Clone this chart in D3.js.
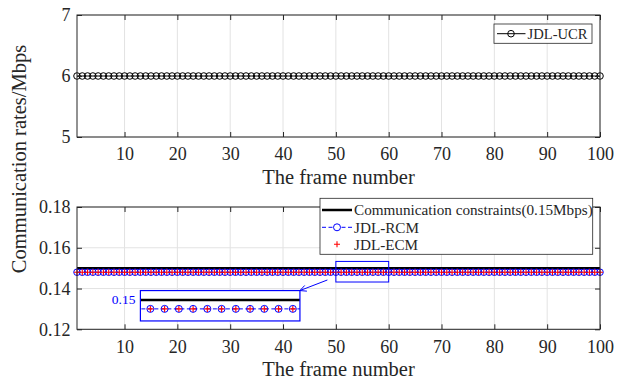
<!DOCTYPE html>
<html><head><meta charset="utf-8">
<script src="https://cdn.jsdelivr.net/npm/d3@7"></script>
<style>body{margin:0;background:#fff}svg{display:block}text{font-family:"Liberation Serif","Times New Roman",serif !important;fill:#262626}</style>
</head><body><svg id="c" width="625" height="379"></svg>
<script>
const frames = d3.range(1, 101);
const ucrValue = 6;            // JDL-UCR
const constraintValue = 0.15;  // Communication constraints
const rcmValue = 0.148;        // JDL-RCM
const ecmValue = 0.148;        // JDL-ECM
const ucr = frames.map(f => ({f, v: ucrValue}));
const constraint = frames.map(f => ({f, v: constraintValue}));
const rcm = frames.map(f => ({f, v: rcmValue}));
const ecm = frames.map(f => ({f, v: ecmValue}));
const xTicks = [10,20,30,40,50,60,70,80,90,100];
const yTicksTop = [5,6,7];
const yTicksBot = [0.12,0.14,0.16,0.18];
const zoomRect = {x0:50, x1:60, y0:0.1432, y1:0.1533};
const insetBox = {x0:13, x1:43.2, y0:0.1241, y1:0.139};
const insetDomX = [49.3, 60.5], insetDomY = [0.1453, 0.1521];
const arrowFrom = {f:48.4, v:0.1442};

const svg = d3.select('#c');
const L = 77, R = 600;
const x = d3.scaleLinear().domain([1,100]).range([L,R]);
const yT = d3.scaleLinear().domain([5,7]).range([137,15]);
const yB = d3.scaleLinear().domain([0.12,0.18]).range([329.3,207]);
const axisCol = '#262626', gridCol = '#e3e3e3';
const SERIF = '"Liberation Serif","Times New Roman",serif';

function frame(y, ticks) {
  const g = svg.append('g');
  const [yb, yt] = y.range();
  g.selectAll('.gx').data(xTicks).join('line').attr('x1',d=>x(d)).attr('x2',d=>x(d)).attr('y1',yb).attr('y2',yt).attr('stroke',gridCol);
  g.selectAll('.gy').data(ticks).join('line').attr('x1',L).attr('x2',R).attr('y1',d=>y(d)).attr('y2',d=>y(d)).attr('stroke',gridCol);
  return g;
}
function styleText(a){a.selectAll('text').style('font-family',SERIF).style('font-size','18px').style('fill',axisCol);}
function axes(y, ticks, fmt) {
  const g = svg.append('g');
  const [yb, yt] = y.range();
  g.append('g').attr('transform',`translate(0,${yb})`).call(d3.axisBottom(x).tickValues(xTicks).tickSize(-5).tickPadding(10.5))
    .call(a=>{a.attr('font-family',SERIF);a.select('.domain').remove();a.selectAll('line').attr('stroke',axisCol);styleText(a);});
  g.append('g').attr('transform',`translate(0,${yt})`).call(d3.axisTop(x).tickValues(xTicks).tickSize(-5).tickFormat(''))
    .call(a=>{a.select('.domain').remove();a.selectAll('line').attr('stroke',axisCol);});
  g.append('g').attr('transform',`translate(${L},0)`).call(d3.axisLeft(y).tickValues(ticks).tickSize(-5).tickPadding(6.5).tickFormat(fmt))
    .call(a=>{a.attr('font-family',SERIF);a.select('.domain').remove();a.selectAll('line').attr('stroke',axisCol);styleText(a);});
  g.append('g').attr('transform',`translate(${R},0)`).call(d3.axisRight(y).tickValues(ticks).tickSize(-5).tickFormat(''))
    .call(a=>{a.select('.domain').remove();a.selectAll('line').attr('stroke',axisCol);});
  g.append('rect').attr('x',L).attr('y',yt).attr('width',R-L).attr('height',yb-yt).attr('fill','none').attr('stroke',axisCol).attr('stroke-width',1);
  g.append('text').attr('x',(L+R)/2).attr('y',yb+47).attr('text-anchor','middle').style('font-size','20.5px').text('The frame number');
}

// ---- top plot
frame(yT, yTicksTop);
const lineT = d3.line().x(d=>x(d.f)).y(d=>yT(d.v));
svg.append('path').datum(ucr).attr('d',lineT).attr('fill','none').attr('stroke','#000').attr('stroke-width',1);
svg.append('g').selectAll('circle').data(ucr).join('circle').attr('cx',d=>x(d.f)).attr('cy',d=>yT(d.v)).attr('r',3.3).attr('fill','none').attr('stroke','#000').attr('stroke-width',1);
axes(yT, yTicksTop, d3.format('d'));
{
  const g = svg.append('g');
  g.append('rect').attr('x',494).attr('y',24).attr('width',98).attr('height',19.3).attr('fill','#fff').attr('stroke',axisCol).attr('stroke-width',0.8);
  const cy = 33.7;
  g.append('line').attr('x1',497).attr('x2',525.5).attr('y1',cy).attr('y2',cy).attr('stroke','#000');
  g.append('circle').attr('cx',511).attr('cy',cy).attr('r',3.3).attr('fill','none').attr('stroke','#000');
  g.append('text').attr('x',527.5).attr('y',cy+5).style('font-size','14.6px').text('JDL-UCR');
}

// ---- bottom plot
frame(yB, yTicksBot);
const lineB = d3.line().x(d=>x(d.f)).y(d=>yB(d.v));
svg.append('path').datum(constraint).attr('d',lineB).attr('fill','none').attr('stroke','#000').attr('stroke-width',2.5);
svg.append('path').datum(rcm).attr('d',lineB).attr('fill','none').attr('stroke','#0000ff').attr('stroke-dasharray','4,2.5');
svg.append('g').selectAll('circle').data(rcm).join('circle').attr('cx',d=>x(d.f)).attr('cy',d=>yB(d.v)).attr('r',3.3).attr('fill','none').attr('stroke','#0000ff');
function drawPlus(sel, sx, sy, data, arm) {
  sel.selectAll('path').data(data).join('path')
    .attr('d',d=>`M${sx(d.f)-arm},${sy(d.v)}H${sx(d.f)+arm}M${sx(d.f)},${sy(d.v)-arm}V${sy(d.v)+arm}`)
    .attr('stroke','#ff0000').attr('stroke-width',1.1).attr('fill','none');
}
drawPlus(svg.append('g'), x, yB, ecm, 3);
svg.append('rect').attr('x',x(zoomRect.x0)).attr('y',yB(zoomRect.y1)).attr('width',x(zoomRect.x1)-x(zoomRect.x0)).attr('height',yB(zoomRect.y0)-yB(zoomRect.y1)).attr('fill','none').attr('stroke','#0000ff').attr('stroke-width',1);
axes(yB, yTicksBot, d3.format('.2f'));

// inset
{
  const bx0 = x(insetBox.x0), bx1 = x(insetBox.x1), by0 = yB(insetBox.y1), by1 = yB(insetBox.y0);
  const ix = d3.scaleLinear().domain(insetDomX).range([bx0,bx1]);
  const iy = d3.scaleLinear().domain(insetDomY).range([by1,by0]);
  svg.append('defs').append('clipPath').attr('id','ic').append('rect').attr('x',bx0).attr('y',by0).attr('width',bx1-bx0).attr('height',by1-by0);
  const g = svg.append('g');
  g.append('rect').attr('x',bx0).attr('y',by0).attr('width',bx1-bx0).attr('height',by1-by0).attr('fill','#fff');
  const c = g.append('g').attr('clip-path','url(#ic)');
  const li = d3.line().x(d=>ix(d.f)).y(d=>iy(d.v));
  c.append('path').datum(constraint).attr('d',li).attr('fill','none').attr('stroke','#000').attr('stroke-width',2.5);
  c.append('path').datum(rcm).attr('d',li).attr('fill','none').attr('stroke','#0000ff').attr('stroke-dasharray','4,2.5');
  const inRange = d => d.f>=insetDomX[0] && d.f<=insetDomX[1];
  c.append('g').selectAll('circle').data(rcm.filter(inRange)).join('circle').attr('cx',d=>ix(d.f)).attr('cy',d=>iy(d.v)).attr('r',3.5).attr('fill','none').attr('stroke','#0000ff');
  drawPlus(c.append('g'), ix, iy, ecm.filter(inRange), 3);
  g.append('rect').attr('x',bx0).attr('y',by0).attr('width',bx1-bx0).attr('height',by1-by0).attr('fill','none').attr('stroke','#0000ff').attr('stroke-width',1.2);
  g.append('text').attr('x',bx0-5).attr('y',iy(constraintValue)+4.5).attr('text-anchor','end').style('font-size','13.5px').style('fill','#0000ff').text(d3.format('.2f')(constraintValue));
  const ax0 = x(arrowFrom.f), ay0 = yB(arrowFrom.v), ax1 = bx1, ay1 = by0;
  const ang = Math.atan2(ay1-ay0, ax1-ax0);
  svg.append('line').attr('x1',ax0).attr('y1',ay0).attr('x2',ax1).attr('y2',ay1).attr('stroke','#0000ff').attr('stroke-width',1);
  const hl = 7, ha = 0.45;
  svg.append('path').attr('d',`M${ax1-hl*Math.cos(ang-ha)},${ay1-hl*Math.sin(ang-ha)}L${ax1},${ay1}L${ax1-hl*Math.cos(ang+ha)},${ay1-hl*Math.sin(ang+ha)}`)
    .attr('fill','none').attr('stroke','#0000ff').attr('stroke-width',1);
}

// bottom legend
{
  const g = svg.append('g');
  g.append('rect').attr('x',320).attr('y',198.3).attr('width',272.7).attr('height',56).attr('fill','#fff').attr('stroke',axisCol).attr('stroke-width',0.8);
  const rows = [210, 227.3, 244.3], sx0 = 322, sx1 = 352, mx = 337, tx = 354;
  g.append('line').attr('x1',sx0).attr('x2',sx1).attr('y1',rows[0]).attr('y2',rows[0]).attr('stroke','#000').attr('stroke-width',2.5);
  g.append('line').attr('x1',sx0).attr('x2',sx1).attr('y1',rows[1]).attr('y2',rows[1]).attr('stroke','#0000ff').attr('stroke-dasharray','4,2.5');
  g.append('circle').attr('cx',mx).attr('cy',rows[1]).attr('r',3.5).attr('fill','#fff').attr('stroke','#0000ff');
  g.append('path').attr('d',`M${mx-3},${rows[2]}H${mx+3}M${mx},${rows[2]-3}V${rows[2]+3}`).attr('stroke','#ff0000').attr('stroke-width',1.1);
  const labels = ['Communication constraints(0.15Mbps)','JDL-RCM','JDL-ECM'];
  g.selectAll('text').data(labels).join('text').attr('x',tx).attr('y',(d,i)=>rows[i]+5.2).style('font-size','15.2px').text(d=>d);
}

svg.append('text').attr('transform','translate(26,159) rotate(-90)').attr('text-anchor','middle').style('font-size','20.5px').text('Communication rates/Mbps');
</script></body></html>
